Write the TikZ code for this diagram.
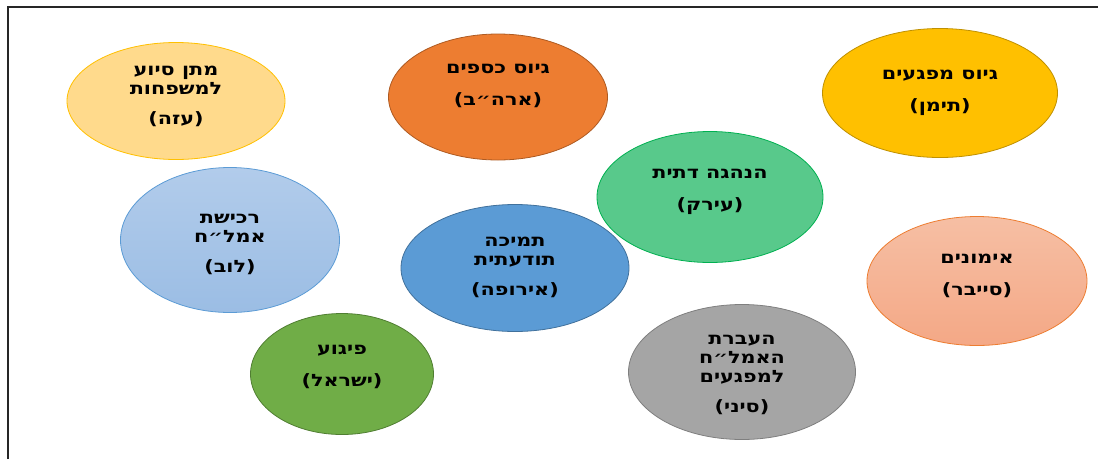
\documentclass[tikz,border=0pt]{standalone}
\usepackage{fontspec}
\setmainfont{DejaVu Sans}
\newfontfamily\hebfont[Script=Hebrew,FakeStretch=1.22]{DejaVu Sans}
\newfontfamily\latinfont[FakeStretch=1.22]{DejaVu Sans}
\TeXXeTstate=1
\usetikzlibrary{shapes.geometric}

\newcommand{\heb}[1]{\beginR #1\endR}
\newcommand{\place}[1]{{\latinfont\bfseries(}\heb{#1}{\latinfont\bfseries)}}

\definecolor{gazafill}{HTML}{FFDA8C}
\definecolor{gazaline}{HTML}{FFC000}
\definecolor{usafill}{HTML}{ED7D31}
\definecolor{usaline}{HTML}{AE5A21}
\definecolor{yemenfill}{HTML}{FFC000}
\definecolor{yemenline}{HTML}{BF9000}
\definecolor{iraqfill}{HTML}{58C98B}
\definecolor{iraqline}{HTML}{00B050}
\definecolor{libyatop}{HTML}{B2CCEB}
\definecolor{libyabot}{HTML}{9BBDE4}
\definecolor{libyaline}{HTML}{5B9BD5}
\definecolor{europefill}{HTML}{5B9BD5}
\definecolor{europeline}{HTML}{41719C}
\definecolor{cybertop}{HTML}{F6BFA4}
\definecolor{cyberbot}{HTML}{F4A886}
\definecolor{cyberline}{HTML}{ED7D31}
\definecolor{israelfill}{HTML}{70AD47}
\definecolor{israelline}{HTML}{507E32}
\definecolor{sinaifill}{HTML}{A5A5A5}
\definecolor{sinailine}{HTML}{7F7F7F}

\tikzset{
  bubble/.style={ellipse, draw, line width=0.8pt, inner sep=0pt},
  caption/.style={align=center, text=black,
    font=\hebfont\bfseries\fontsize{17}{19}\selectfont}
}

\begin{document}
\begin{tikzpicture}[x=1pt,y=-1pt]
    \useasboundingbox (0,0) rectangle (1098,459);
    \draw[line width=1.3pt, black!85] (8,459) -- (8,7) -- (1098,7);

    % bubbles
    \node[bubble, fill=gazafill, draw=gazaline, minimum width=218pt, minimum height=117pt] (gaza) at (176,101) {};
    \node[bubble, fill=usafill, draw=usaline, minimum width=219pt, minimum height=126pt] (usa) at (498,97) {};
    \node[bubble, fill=yemenfill, draw=yemenline, minimum width=235pt, minimum height=129pt] (yemen) at (940,93) {};
    \node[bubble, fill=iraqfill, draw=iraqline, minimum width=226pt, minimum height=131pt] (iraq) at (710,197) {};
    \node[bubble, top color=libyatop, bottom color=libyabot, draw=libyaline, minimum width=219pt, minimum height=145pt] (libya) at (230,240) {};
    \node[bubble, fill=europefill, draw=europeline, minimum width=228pt, minimum height=127pt] (europe) at (515,268) {};
    \node[bubble, top color=cybertop, bottom color=cyberbot, draw=cyberline, minimum width=220pt, minimum height=129pt] (cyber) at (977,281) {};
    \node[bubble, fill=israelfill, draw=israelline, minimum width=183pt, minimum height=121pt] (israel) at (342,374) {};
    \node[bubble, fill=sinaifill, draw=sinailine, minimum width=227pt, minimum height=135pt] (sinai) at (742,372) {};

    % captions
    \node[caption] (gazatxt) at (176,96) {\heb{מתן סיוע}\\\heb{למשפחות}\\[11pt]\place{עזה}};
    \node[caption] (usatxt) at (498,86) {\heb{גיוס כספים}\\[13pt]\place{ארה״ב}};
    \node[caption] (yementxt) at (940,93) {\heb{גיוס מפגעים}\\[13pt]\place{תימן}};
    \node[caption] (iraqtxt) at (710,192) {\heb{הנהגה דתית}\\[13pt]\place{עירק}};
    \node[caption] (libyatxt) at (230,244) {\heb{רכישת}\\\heb{אמל״ח}\\[11pt]\place{לוב}};
    \node[caption] (europetxt) at (515,267) {\heb{תמיכה}\\\heb{תודעתית}\\[11pt]\place{אירופה}};
    \node[caption] (cybertxt) at (977,276) {\heb{אימונים}\\[13pt]\place{סייבר}};
    \node[caption] (israeltxt) at (342,367) {\heb{פיגוע}\\[13pt]\place{ישראל}};
    \node[caption] (sinaitxt) at (742,375) {\heb{העברת}\\\heb{האמל״ח}\\\heb{למפגעים}\\[11pt]\place{סיני}};
\end{tikzpicture}
\end{document}
